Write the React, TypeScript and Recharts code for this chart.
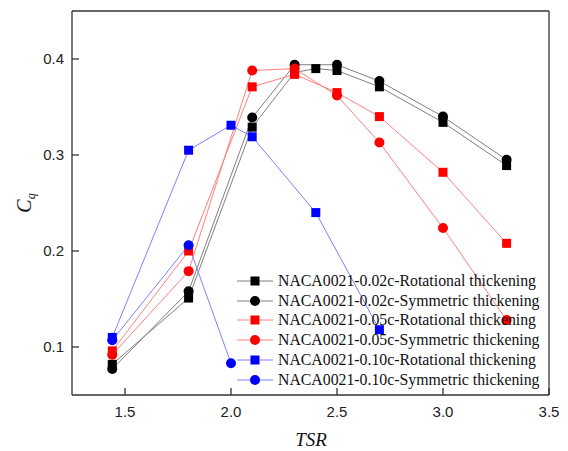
import React from 'react'
import { LineChart, Line, XAxis, YAxis, ReferenceLine } from 'recharts'

// TSR values and Cq readings per series
const xRot02 = [1.44, 1.8, 2.1, 2.3, 2.4, 2.5, 2.7, 3.0, 3.3]
const yRot02 = [0.082, 0.151, 0.329, 0.386, 0.39, 0.388, 0.371, 0.334, 0.289]
const xSym02 = [1.44, 1.8, 2.1, 2.3, 2.5, 2.7, 3.0, 3.3]
const ySym02 = [0.077, 0.158, 0.339, 0.394, 0.394, 0.377, 0.34, 0.295]
const xRot05 = [1.44, 1.8, 2.1, 2.3, 2.5, 2.7, 3.0, 3.3]
const yRot05 = [0.096, 0.2, 0.371, 0.384, 0.365, 0.34, 0.282, 0.208]
const xSym05 = [1.44, 1.8, 2.1, 2.3, 2.5, 2.7, 3.0, 3.3]
const ySym05 = [0.092, 0.179, 0.388, 0.39, 0.362, 0.313, 0.224, 0.128]
const xRot10 = [1.44, 1.8, 2.0, 2.1, 2.4, 2.7]
const yRot10 = [0.11, 0.305, 0.331, 0.319, 0.24, 0.118]
const xSym10 = [1.44, 1.8, 2.0]
const ySym10 = [0.107, 0.206, 0.083]

const xTicks = [1.5, 2.0, 2.5, 3.0, 3.5]
const yTicks = [0.1, 0.2, 0.3, 0.4]

const zip = (xs: number[], ys: number[]) => xs.map((x, i) => ({ x, y: ys[i] }))

type Shape = 'square' | 'circle'
interface Series {
  name: string
  data: { x: number; y: number }[]
  color: string
  line: string
  shape: Shape
}

const series: Series[] = [
  { name: 'NACA0021-0.02c-Rotational thickening', data: zip(xRot02, yRot02), color: '#000000', line: '#808080', shape: 'square' },
  { name: 'NACA0021-0.02c-Symmetric thickening', data: zip(xSym02, ySym02), color: '#000000', line: '#808080', shape: 'circle' },
  { name: 'NACA0021-0.05c-Rotational thickening', data: zip(xRot05, yRot05), color: '#ff0000', line: '#ff8080', shape: 'square' },
  { name: 'NACA0021-0.05c-Symmetric thickening', data: zip(xSym05, ySym05), color: '#ff0000', line: '#ff8080', shape: 'circle' },
  { name: 'NACA0021-0.10c-Rotational thickening', data: zip(xRot10, yRot10), color: '#0000ff', line: '#8080ff', shape: 'square' },
  { name: 'NACA0021-0.10c-Symmetric thickening', data: zip(xSym10, ySym10), color: '#0000ff', line: '#8080ff', shape: 'circle' },
]

const axisColor = '#333'
const tickStyle = { fill: '#222', fontSize: 15, fontFamily: '"Liberation Sans", Arial, sans-serif' }

function marker(shape: Shape, color: string) {
  return (props: any) => {
    const { cx, cy, index } = props
    if (cx == null || cy == null) return <g key={index} />
    if (shape === 'square')
      return <rect key={index} x={cx - 4.5} y={cy - 4.5} width={9} height={9} fill={color} />
    return <circle key={index} cx={cx} cy={cy} r={5} fill={color} />
  }
}

function LegendBox() {
  return (
    <div style={{ position: 'absolute', left: 236, top: 271, fontFamily: '"Liberation Serif", "Times New Roman", serif', fontSize: 15.8, color: '#111' }}>
      {series.map((s) => (
        <div key={s.name} style={{ display: 'flex', alignItems: 'center', height: 19.8 }}>
          <svg width={38} height={12} style={{ marginRight: 4 }}>
            <line x1={1} y1={6} x2={37} y2={6} stroke={s.line} strokeWidth={1} />
            {s.shape === 'square' ? (
              <rect x={14.5} y={1.5} width={9} height={9} fill={s.color} />
            ) : (
              <circle cx={19} cy={6} r={5} fill={s.color} />
            )}
          </svg>
          <span style={{ whiteSpace: 'nowrap' }}>{s.name}</span>
        </div>
      ))}
    </div>
  )
}

const yLabel = () => (
  <text x={31} y={203} transform="rotate(-90, 31, 203)" textAnchor="middle" fontFamily='"Liberation Serif", "Times New Roman", serif' fontStyle="italic" fontSize={20} fill="#111">
    C<tspan fontSize={12} dy={4}>q</tspan>
  </text>
)

const xLabel = () => (
  <text x={311} y={446} textAnchor="middle" fontFamily='"Liberation Serif", "Times New Roman", serif' fontStyle="italic" fontSize={19} fill="#111">
    TSR
  </text>
)

export default function App() {
  return (
    <div style={{ position: 'absolute', left: 0, top: 0, width: 568, height: 451, background: '#fff' }}>
      <LineChart width={568} height={451} margin={{ top: 11, right: 19, bottom: 0, left: 12 }}>
        <XAxis
          dataKey="x"
          type="number"
          domain={[1.25, 3.5]}
          ticks={xTicks}
          tickFormatter={(v: number) => v.toFixed(1)}
          height={56}
          tickSize={-7}
          tickMargin={18}
          tick={tickStyle}
          axisLine={{ stroke: axisColor, strokeWidth: 1.3 }}
          tickLine={{ stroke: axisColor, strokeWidth: 1.3 }}
          allowDataOverflow
          label={xLabel}
        />
        <YAxis
          dataKey="y"
          type="number"
          domain={[0.05, 0.45]}
          ticks={yTicks}
          tickFormatter={(v: number) => v.toFixed(1)}
          width={60}
          tickSize={-7}
          tickMargin={15}
          tick={tickStyle}
          axisLine={{ stroke: axisColor, strokeWidth: 1.3 }}
          tickLine={{ stroke: axisColor, strokeWidth: 1.3 }}
          allowDataOverflow
          label={yLabel}
        />
        <ReferenceLine y={0.45} stroke={axisColor} strokeWidth={1.3} />
        <ReferenceLine x={3.5} stroke={axisColor} strokeWidth={1.3} />
        {series.map((s) => (
          <Line
            key={s.name}
            data={s.data}
            dataKey="y"
            name={s.name}
            type="linear"
            stroke={s.line}
            strokeWidth={1}
            dot={marker(s.shape, s.color)}
            activeDot={false}
            isAnimationActive={false}
          />
        ))}
      </LineChart>
      <LegendBox />
    </div>
  )
}
